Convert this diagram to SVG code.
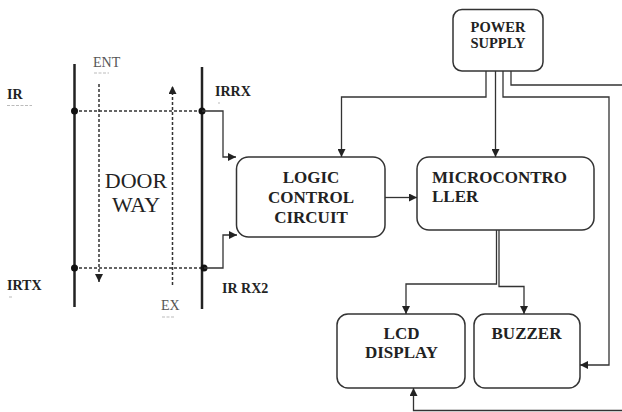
<svg xmlns="http://www.w3.org/2000/svg" width="622" height="412" viewBox="0 0 622 412">
<defs>
<style>
.box{fill:#fff;stroke:#333;stroke-width:1.5}
.bt{font-family:"Liberation Serif","Tinos","Times New Roman","DejaVu Serif",serif;font-weight:bold;fill:#222;text-anchor:middle}
.st{text-anchor:start}
.lbl{font-family:"Liberation Serif","Tinos","Times New Roman","DejaVu Serif",serif;font-weight:bold;font-size:14px;fill:#222}
.thin{font-family:"Liberation Serif","Tinos","Times New Roman","DejaVu Serif",serif;font-size:14px;fill:#555}
.door{font-family:"Liberation Serif","Tinos","Times New Roman","DejaVu Serif",serif;font-size:22px;fill:#222;text-anchor:middle}
.wire{fill:none;stroke:#333;stroke-width:1.3}
.dash{fill:none;stroke:#333;stroke-width:1.5;stroke-dasharray:3 2}
.rail{stroke:#222;stroke-width:2.5}
.faint{stroke:#bbb;stroke-width:1;stroke-dasharray:3 1.5}
</style>
<marker id="ah" viewBox="0 0 10 10" refX="10" refY="5" markerWidth="8" markerHeight="8" markerUnits="userSpaceOnUse" orient="auto">
<path d="M0,0 L10,5 L0,10 Z" fill="#222"/>
</marker>
</defs>

<g id="doorway">
<line class="rail" x1="74.5" y1="64" x2="74.5" y2="307"/>
<line class="rail" x1="202" y1="67" x2="202" y2="309"/>
<line class="dash" x1="74" y1="111" x2="202" y2="111"/>
<line class="dash" x1="74" y1="268" x2="204" y2="268"/>
<line class="dash" x1="99" y1="84" x2="99" y2="282" marker-end="url(#ah)"/>
<line class="dash" x1="172.5" y1="285" x2="172.5" y2="86" marker-end="url(#ah)"/>
<circle cx="74.5" cy="111" r="3.5" fill="#111"/>
<circle cx="202" cy="111" r="3.5" fill="#111"/>
<circle cx="74.5" cy="268" r="3.5" fill="#111"/>
<circle cx="204" cy="268" r="3.5" fill="#111"/>
<text class="door" x="136" y="188">DOOR</text>
<text class="door" x="136" y="212">WAY</text>
</g>

<g id="labels">
<text class="lbl" x="7" y="99">IR</text>
<line class="faint" x1="7" y1="105.5" x2="32" y2="105.5"/>
<text class="lbl" x="7" y="290">IRTX</text>
<line class="faint" x1="9" y1="297" x2="13" y2="297"/>
<text class="lbl" x="215" y="96">IRRX</text>
<line class="faint" x1="218" y1="103" x2="220" y2="103"/>
<text class="lbl" x="222" y="293">IR RX2</text>
<text class="thin" x="93" y="67">ENT</text>
<line class="faint" x1="94" y1="73" x2="109" y2="73"/>
<text class="thin" x="161" y="310">EX</text>
<line class="faint" x1="162" y1="317" x2="174" y2="317"/>
</g>

<g id="power-supply">
<rect class="box" x="453" y="9.5" width="90" height="61.5" rx="9"/>
<text class="bt" x="498" y="32" font-size="14.5">POWER</text>
<text class="bt" x="498" y="48" font-size="14.5">SUPPLY</text>
</g>

<g id="logic-control-circuit">
<rect class="box" x="236.5" y="157" width="148.5" height="80" rx="12"/>
<text class="bt" x="311" y="183" font-size="17">LOGIC</text>
<text class="bt" x="311" y="203" font-size="17">CONTROL</text>
<text class="bt" x="311" y="223" font-size="17">CIRCUIT</text>
</g>

<g id="microcontroller">
<rect class="box" x="417" y="157" width="177" height="73" rx="12"/>
<text class="bt st" x="432" y="183" font-size="17">MICROCONTRO</text>
<text class="bt st" x="432" y="202" font-size="17">LLER</text>
</g>

<g id="lcd-display">
<rect class="box" x="337" y="314" width="128" height="74" rx="11"/>
<text class="bt" x="401.5" y="339" font-size="17">LCD</text>
<text class="bt" x="401.5" y="358" font-size="17">DISPLAY</text>
</g>

<g id="buzzer">
<rect class="box" x="474" y="314" width="106" height="74" rx="11"/>
<text class="bt" x="526.5" y="339" font-size="17">BUZZER</text>
</g>

<g id="connectors">
<polyline class="wire" points="202,111 223,111 223,157 236,157" marker-end="url(#ah)"/>
<polyline class="wire" points="204,268 223,268 223,235 237,235" marker-end="url(#ah)"/>
<line class="wire" x1="385" y1="197.5" x2="417" y2="197.5" marker-end="url(#ah)"/>
<polyline class="wire" points="486,71 486,97 341.5,97 341.5,157" marker-end="url(#ah)"/>
<line class="wire" x1="495.5" y1="71" x2="495.5" y2="157" marker-end="url(#ah)"/>
<polyline class="wire" points="503,71 503,97 609,97 609,365 580,365" marker-end="url(#ah)"/>
<polyline class="wire" points="511,71 511,85 622,85"/>
<polyline class="wire" points="622,410.5 413.5,410.5 413.5,388" marker-end="url(#ah)"/>
<polyline class="wire" points="496.5,230 496.5,284 406,284 406,314" marker-end="url(#ah)"/>
<polyline class="wire" points="499,230 499,286.5 524,286.5 524,314" marker-end="url(#ah)"/>
</g>
</svg>
